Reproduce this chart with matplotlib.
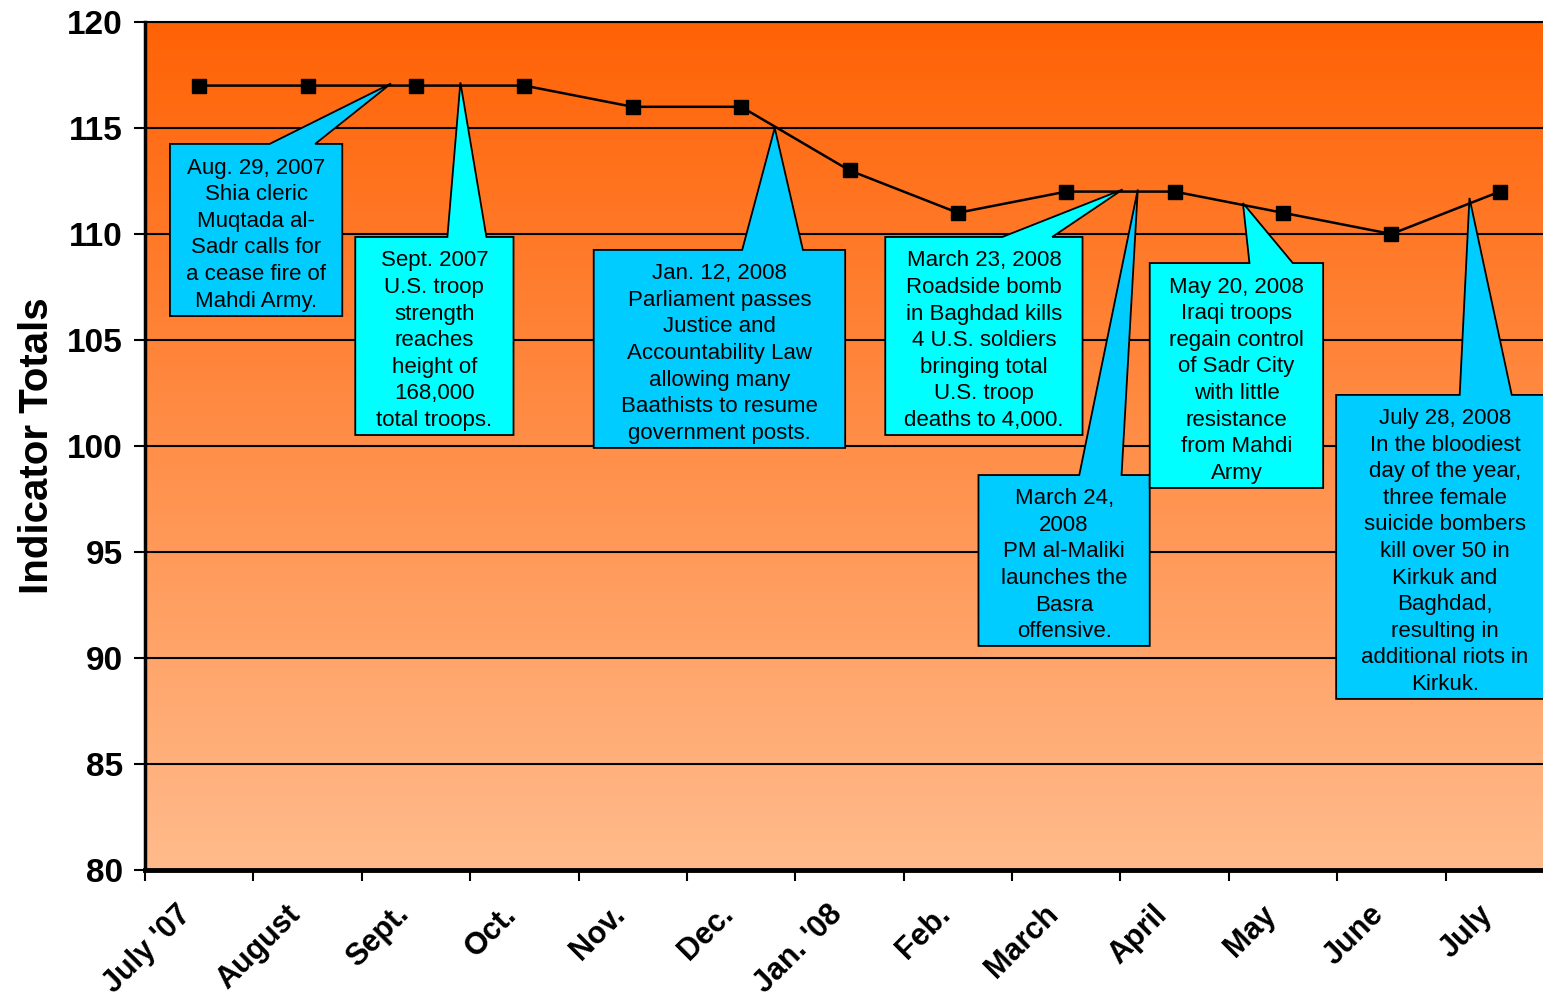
import matplotlib
matplotlib.use("Agg")
import matplotlib.pyplot as plt
import matplotlib.transforms as mtransforms
import numpy as np
from matplotlib.patches import Polygon
from matplotlib.colors import LinearSegmentedColormap

plt.rcParams['font.family'] = ['Liberation Sans', 'DejaVu Sans']

months = ["July '07", "August", "Sept.", "Oct.", "Nov.", "Dec.", "Jan. '08",
          "Feb.", "March", "April", "May", "June", "July"]
totals = [117, 117, 117, 117, 116, 116, 113, 111, 112, 112, 111, 110, 112]

# callout boxes: text, colour, box (x0, x1, ytop, ybottom), base of pointer (xl, xr), tip (x, y)
# x in month units (0 = left edge of July '07), y in indicator units
callouts = [
    ("Aug. 29, 2007\nShia cleric\nMuqtada al-\nSadr calls for\na cease fire of\nMahdi Army.",
     "#00CCFF", (0.23, 1.82, 114.25, 106.13), (1.15, 1.57), (2.27, 117.1)),
    ("Sept. 2007\nU.S. troop\nstrength\nreaches\nheight of\n168,000\ntotal troops.",
     "#00FFFF", (1.94, 3.40, 109.86, 100.52), (2.79, 3.15), (2.91, 117.15)),
    ("Jan. 12, 2008\nParliament passes\nJustice and\nAccountability Law\nallowing many\nBaathists to resume\ngovernment posts.",
     "#00CCFF", (4.14, 6.46, 109.25, 99.91), (5.51, 6.07), (5.81, 115.0)),
    ("March 23, 2008\nRoadside bomb\nin Baghdad kills\n4 U.S. soldiers\nbringing total\nU.S. troop\ndeaths to 4,000.",
     "#00FFFF", (6.83, 8.65, 109.86, 100.52), (7.91, 8.37), (9.02, 112.1)),
    ("March 24,\n2008\nPM al-Maliki\nlaunches the\nBasra\noffensive.",
     "#00CCFF", (7.69, 9.27, 98.63, 90.57), (8.62, 9.01), (9.16, 112.1)),
    ("May 20, 2008\nIraqi troops\nregain control\nof Sadr City\nwith little\nresistance\nfrom Mahdi\nArmy",
     "#00FFFF", (9.27, 10.87, 108.63, 98.02), (10.19, 10.59), (10.13, 111.46)),
    ("July 28, 2008\nIn the bloodiest\nday of the year,\nthree female\nsuicide bombers\nkill over 50 in\nKirkuk and\nBaghdad,\nresulting in\nadditional riots in\nKirkuk.",
     "#00CCFF", (10.99, 13.2, 102.41, 88.07), (12.13, 12.61), (12.22, 111.7)),
]

fig = plt.figure(figsize=(15.43, 9.97), dpi=100)
ax = fig.add_axes([145 / 1543, 127 / 997, 1409 / 1543, 848 / 997])

x = np.arange(len(months)) + 0.5
ax.set_xlim(0, len(months))
ax.set_ylim(80, 120)

# gradient background
cmap = LinearSegmentedColormap.from_list("bg", ["#FFBB8C", "#FF6205"])
grad = np.linspace(0, 1, 256).reshape(-1, 1)
ax.imshow(grad, cmap=cmap, aspect='auto', origin='lower',
          extent=[0, len(months), 80, 120], zorder=0)

for yv in range(85, 121, 5):
    ax.axhline(yv, color='black', lw=1.5, zorder=1)

for text, color, box, base, tip in callouts:
    x0, x1, yt, yb = box
    pts = [(x0, yt), (base[0], yt), tip, (base[1], yt), (x1, yt), (x1, yb), (x0, yb)]
    ax.add_patch(Polygon(pts, closed=True, facecolor=color, edgecolor='black',
                         lw=1.3, zorder=2, clip_on=False))
    xc = (x0 + min(x1, 13.0)) / 2
    ax.text(xc, (yt + yb) / 2 - 0.22, text, ha='center', va='center',
            fontsize=16, linespacing=1.35, zorder=3)

ax.plot(x, totals, color='black', lw=1.8, marker='s', markersize=10, zorder=4)

ax.set_xticks(np.arange(len(months) + 1))
ax.set_xticklabels([])
ax.tick_params(axis='x', which='major', direction='out', length=8, width=1.5)

# rotated month labels under the category centres
off = mtransforms.ScaledTranslation(-12 / 100, -40 / 100, fig.dpi_scale_trans)
for xi, lab in zip(x, months):
    ax.text(xi, 0, lab, transform=ax.get_xaxis_transform() + off,
            rotation=45, rotation_mode='anchor', ha='right', va='center',
            fontsize=22, fontweight='bold', clip_on=False)

ax.set_yticks(range(80, 121, 5))
ax.tick_params(axis='y', direction='out', length=8, width=1.5, pad=8)
for lab in ax.get_yticklabels():
    lab.set_fontsize(24)
    lab.set_fontweight('bold')

ax.set_ylabel('Indicator Totals', fontsize=29, fontweight='bold', labelpad=8)

ax.spines['left'].set_linewidth(2.5)
ax.spines['bottom'].set_linewidth(3.5)
ax.spines['top'].set_linewidth(1.5)
ax.spines['right'].set_visible(False)

fig.savefig('out.png', dpi=100)
